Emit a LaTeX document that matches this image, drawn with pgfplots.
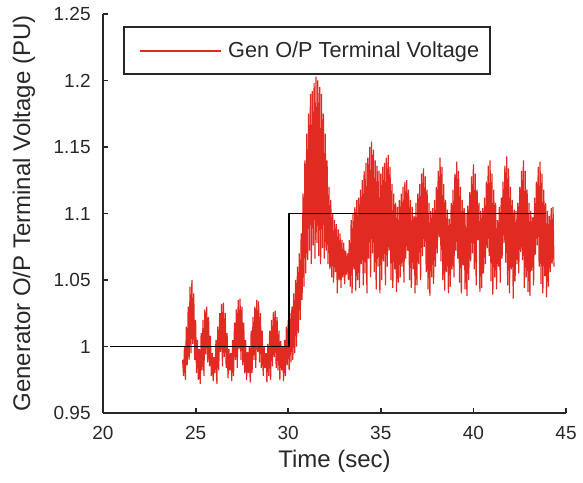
\documentclass[border=0pt]{standalone}
\usepackage{fontspec}
\setmainfont{Liberation Sans}
\usepackage{pgfplots}
\pgfplotsset{compat=1.18}
\definecolor{sigred}{RGB}{224,42,34}
\definecolor{txt}{RGB}{40,40,40}

\begin{document}
\begin{tikzpicture}
\begin{axis}[
  scale only axis,
  width=231.5pt, height=199.5pt,
  xmin=20, xmax=45, ymin=0.95, ymax=1.25,
  xtick={20,25,30,35,40,45},
  ytick={0.95,1,1.05,1.1,1.15,1.2,1.25},
  axis lines=left,
  axis line style={-, line width=0.9pt, black!85},
  tick style={line width=0.9pt, black!85},
  tick align=inside,
  major tick length=2.5pt,
  /pgf/number format/assume math mode=true,
  /pgf/number format/fixed,
  /pgf/number format/precision=2,
  tick label style={font=\fontsize{9.5}{11}\selectfont, text=txt},
  xticklabel style={anchor=center, yshift=-10pt},
  yticklabel style={anchor=east, inner sep=0pt, xshift=-6pt},
  xlabel={Time (sec)},
  ylabel={Generator O/P Terminal Voltage (PU)},
  label style={font=\fontsize{12}{14}\selectfont, text=txt},
  xlabel style={at={(rel axis cs:0.5,0)}, anchor=center, yshift=-24pt},
  ylabel style={at={(rel axis cs:0,0.5)}, anchor=center, yshift=39.5pt},
  legend style={at={(rel axis cs:0.045,0.967)}, anchor=north west,
    draw=none, fill=none, font=\fontsize{10.85}{12}\selectfont,
    text=txt, inner xsep=3pt, inner ysep=5pt},
  legend image code/.code={
    \path[draw=none] (0pt,0pt) -- (47pt,0pt);
    \draw[draw=sigred, line width=0.7pt] (5pt,0pt) -- (45.5pt,0pt);},
]
% generator terminal voltage (hi/lo samples of the fast oscillation)
\addplot[color=sigred, line width=0.6pt, mark=none] coordinates {
(24.30,0.990) (24.35,0.978) (24.40,1.000) (24.45,0.975) (24.50,1.015) (24.55,0.986)
(24.60,1.030) (24.65,0.990) (24.70,1.045) (24.75,0.995) (24.80,1.050) (24.85,1.002)
(24.90,1.040) (24.95,0.990) (25.00,1.020) (25.05,0.980) (25.10,1.005) (25.15,0.975)
(25.20,0.998) (25.25,0.972) (25.30,1.010) (25.35,0.982) (25.40,1.020) (25.45,0.978)
(25.50,1.028) (25.55,0.994) (25.60,1.030) (25.65,0.988) (25.70,1.022) (25.75,0.985)
(25.80,1.008) (25.85,0.978) (25.90,0.995) (25.95,0.974) (26.00,0.992) (26.05,0.980)
(26.10,1.005) (26.15,0.972) (26.20,1.015) (26.25,0.982) (26.30,1.025) (26.35,0.996)
(26.40,1.032) (26.45,0.985) (26.50,1.033) (26.55,0.992) (26.60,1.025) (26.65,0.984)
(26.70,1.010) (26.75,0.976) (26.80,0.998) (26.85,0.982) (26.90,0.995) (26.95,0.974)
(27.00,1.005) (27.05,0.978) (27.10,1.018) (27.15,0.990) (27.20,1.028) (27.25,0.984)
(27.30,1.035) (27.35,0.998) (27.40,1.036) (27.45,0.990) (27.50,1.030) (27.55,0.986)
(27.60,1.018) (27.65,0.980) (27.70,1.005) (27.75,0.975) (27.80,0.996) (27.85,0.980)
(27.90,1.000) (27.95,0.973) (28.00,1.012) (28.05,0.980) (28.10,1.022) (28.15,0.990)
(28.20,1.030) (28.25,0.984) (28.30,1.035) (28.35,0.996) (28.40,1.034) (28.45,0.988)
(28.50,1.025) (28.55,0.984) (28.60,1.012) (28.65,0.978) (28.70,1.000) (28.75,0.984)
(28.80,0.995) (28.85,0.973) (28.90,1.002) (28.95,0.978) (29.00,1.012) (29.05,0.975)
(29.10,1.020) (29.15,0.985) (29.20,1.026) (29.25,0.992) (29.30,1.027) (29.35,0.984)
(29.40,1.022) (29.45,0.982) (29.50,1.012) (29.55,0.975) (29.60,1.004) (29.65,0.982)
(29.70,1.000) (29.75,0.974) (29.80,1.005) (29.85,0.978) (29.90,1.015) (29.95,0.986)
(30.00,1.020) (30.05,0.982) (30.10,1.025) (30.15,0.988) (30.20,1.030) (30.25,0.990)
(30.30,1.040) (30.35,0.995) (30.40,1.050) (30.45,1.000) (30.50,1.060) (30.55,1.010)
(30.60,1.070) (30.65,1.020) (30.70,1.085) (30.75,1.035) (30.80,1.115) (30.85,1.045)
(30.90,1.140) (30.95,1.055) (31.00,1.160) (31.05,1.065) (31.10,1.175) (31.15,1.072)
(31.20,1.190) (31.25,1.062) (31.30,1.192) (31.35,1.076) (31.40,1.198) (31.45,1.066)
(31.50,1.203) (31.55,1.078) (31.60,1.200) (31.65,1.068) (31.70,1.195) (31.75,1.062)
(31.80,1.190) (31.85,1.074) (31.90,1.175) (31.95,1.066) (32.00,1.160) (32.05,1.072)
(32.10,1.140) (32.15,1.062) (32.20,1.120) (32.25,1.058) (32.30,1.110) (32.35,1.052)
(32.40,1.100) (32.45,1.048) (32.50,1.095) (32.55,1.056) (32.60,1.092) (32.65,1.040)
(32.70,1.088) (32.75,1.050) (32.80,1.085) (32.85,1.044) (32.90,1.080) (32.95,1.052)
(33.00,1.078) (33.05,1.047) (33.10,1.072) (33.15,1.054) (33.20,1.070) (33.25,1.050)
(33.30,1.080) (33.35,1.045) (33.40,1.095) (33.45,1.040) (33.50,1.100) (33.55,1.058)
(33.60,1.105) (33.65,1.042) (33.70,1.110) (33.75,1.050) (33.80,1.112) (33.85,1.044)
(33.90,1.118) (33.95,1.062) (34.00,1.125) (34.05,1.046) (34.10,1.132) (34.15,1.055)
(34.20,1.138) (34.25,1.040) (34.30,1.142) (34.35,1.066) (34.40,1.150) (34.45,1.052)
(34.50,1.154) (34.55,1.070) (34.60,1.148) (34.65,1.056) (34.70,1.140) (34.75,1.043)
(34.80,1.136) (34.85,1.060) (34.90,1.132) (34.95,1.040) (35.00,1.130) (35.05,1.050)
(35.10,1.135) (35.15,1.064) (35.20,1.138) (35.25,1.046) (35.30,1.142) (35.35,1.060)
(35.40,1.144) (35.45,1.072) (35.50,1.135) (35.55,1.050) (35.60,1.122) (35.65,1.044)
(35.70,1.115) (35.75,1.058) (35.80,1.108) (35.85,1.041) (35.90,1.105) (35.95,1.048)
(36.00,1.110) (36.05,1.052) (36.10,1.115) (36.15,1.060) (36.20,1.120) (36.25,1.048)
(36.30,1.124) (36.35,1.066) (36.40,1.125) (36.45,1.072) (36.50,1.118) (36.55,1.050)
(36.60,1.110) (36.65,1.044) (36.70,1.105) (36.75,1.058) (36.80,1.098) (36.85,1.040)
(36.90,1.108) (36.95,1.046) (37.00,1.115) (37.05,1.062) (37.10,1.122) (37.15,1.050)
(37.20,1.130) (37.25,1.068) (37.30,1.134) (37.35,1.075) (37.40,1.128) (37.45,1.056)
(37.50,1.118) (37.55,1.043) (37.60,1.108) (37.65,1.038) (37.70,1.102) (37.75,1.052)
(37.80,1.104) (37.85,1.047) (37.90,1.110) (37.95,1.060) (38.00,1.120) (38.05,1.070)
(38.10,1.132) (38.15,1.082) (38.20,1.142) (38.25,1.064) (38.30,1.135) (38.35,1.050)
(38.40,1.122) (38.45,1.042) (38.50,1.110) (38.55,1.056) (38.60,1.103) (38.65,1.040)
(38.70,1.096) (38.75,1.045) (38.80,1.108) (38.85,1.058) (38.90,1.118) (38.95,1.052)
(39.00,1.130) (39.05,1.072) (39.10,1.139) (39.15,1.066) (39.20,1.132) (39.25,1.048)
(39.30,1.120) (39.35,1.040) (39.40,1.110) (39.45,1.061) (39.50,1.104) (39.55,1.043)
(39.60,1.100) (39.65,1.038) (39.70,1.106) (39.75,1.050) (39.80,1.116) (39.85,1.064)
(39.90,1.128) (39.95,1.070) (40.00,1.137) (40.05,1.058) (40.10,1.130) (40.15,1.046)
(40.20,1.118) (40.25,1.080) (40.30,1.108) (40.35,1.041) (40.40,1.102) (40.45,1.044)
(40.50,1.104) (40.55,1.055) (40.60,1.112) (40.65,1.062) (40.70,1.124) (40.75,1.074)
(40.80,1.136) (40.85,1.068) (40.90,1.140) (40.95,1.049) (41.00,1.130) (41.05,1.039)
(41.10,1.118) (41.15,1.052) (41.20,1.108) (41.25,1.043) (41.30,1.095) (41.35,1.060)
(41.40,1.105) (41.45,1.048) (41.50,1.112) (41.55,1.066) (41.60,1.124) (41.65,1.078)
(41.70,1.136) (41.75,1.063) (41.80,1.143) (41.85,1.046) (41.90,1.134) (41.95,1.040)
(42.00,1.120) (42.05,1.058) (42.10,1.110) (42.15,1.036) (42.20,1.103) (42.25,1.049)
(42.30,1.102) (42.35,1.062) (42.40,1.108) (42.45,1.055) (42.50,1.120) (42.55,1.071)
(42.60,1.132) (42.65,1.065) (42.70,1.140) (42.75,1.044) (42.80,1.132) (42.85,1.052)
(42.90,1.118) (42.95,1.041) (43.00,1.108) (43.05,1.038) (43.10,1.102) (43.15,1.057)
(43.20,1.097) (43.25,1.046) (43.30,1.112) (43.35,1.069) (43.40,1.124) (43.45,1.076)
(43.50,1.135) (43.55,1.060) (43.60,1.139) (43.65,1.047) (43.70,1.130) (43.75,1.040)
(43.80,1.118) (43.85,1.053) (43.90,1.108) (43.95,1.037) (44.00,1.102) (44.05,1.045)
(44.10,1.098) (44.15,1.056) (44.20,1.104) (44.25,1.062) (44.30,1.105) (44.35,1.060)
};
\addlegendentry{Gen O/P Terminal Voltage}
% reference step
\addplot[color=black, line width=0.8pt, mark=none, forget plot] coordinates {
(20.4,1.0) (30.05,1.0) (30.05,1.1) (43.9,1.1)
};
% frame round the legend
\draw[black!85, line width=0.9pt] (rel axis cs:0.045,0.850) rectangle (rel axis cs:0.836,0.967);
\coordinate (bl) at (rel axis cs:0,0);
\coordinate (tr) at (rel axis cs:1,1);
\end{axis}
\pgfresetboundingbox
\path ([shift={(-51.5pt,-34.5pt)}]bl) rectangle ([shift={(8.5pt,7pt)}]tr);
\end{tikzpicture}
\end{document}
